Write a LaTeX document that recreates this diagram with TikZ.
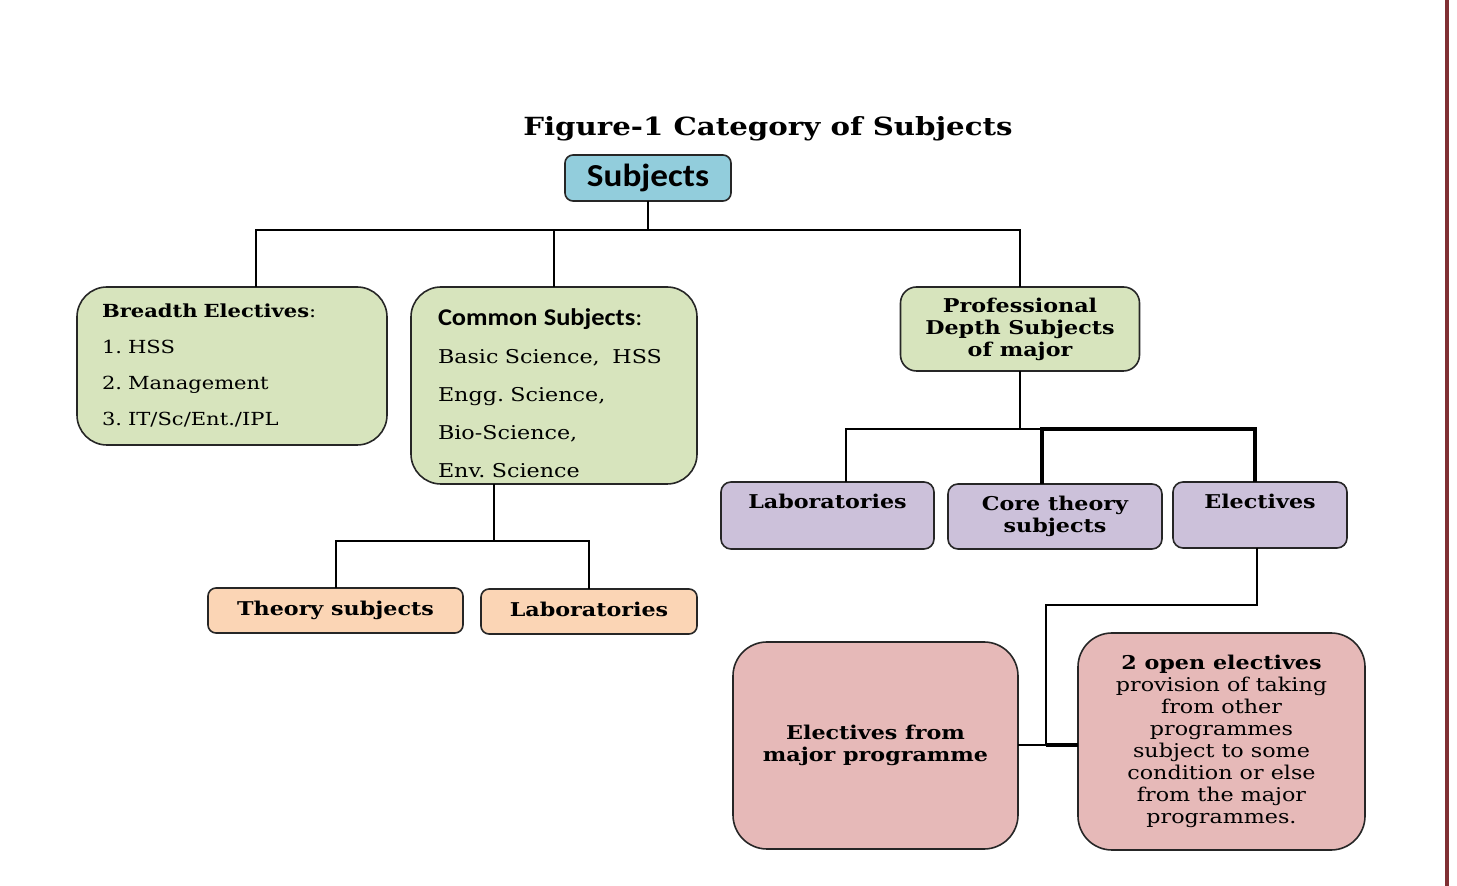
\documentclass[tikz,border=0pt]{standalone}
\usepackage{fontspec}
\setmainfont{DejaVu Serif}[FakeStretch=1.17]
\newfontfamily\calfont{Carlito}[FakeStretch=1.1]
\usepackage{tikz}
\usetikzlibrary{positioning}
\newcommand{\px}{0.5pt}
\newcommand{\bodyfont}{\fontsize{9.5}{11}\selectfont}
\definecolor{subjblue}{RGB}{146,205,220}
\definecolor{greenfill}{RGB}{215,228,189}
\definecolor{peachfill}{RGB}{251,213,181}
\definecolor{purplefill}{RGB}{204,193,218}
\definecolor{pinkfill}{RGB}{230,185,184}
\definecolor{pagered}{RGB}{128,48,52}
\tikzstyle{catbox}=[draw=black!85, line width=0.8pt, rounded corners=4pt, inner sep=0, outer sep=0]
\tikzstyle{greenbox}=[catbox, fill=greenfill, rounded corners=15pt]
\tikzstyle{peachbox}=[catbox, fill=peachfill, minimum height=45*\px, text height=7pt, text depth=2pt,
                      font=\bfseries\bodyfont]
\tikzstyle{purplebox}=[catbox, fill=purplefill, rounded corners=5pt]
\tikzstyle{pinkbox}=[catbox, fill=pinkfill, rounded corners=17pt, align=center]
\tikzstyle{boxtext}=[inner sep=0, align=center, font=\bfseries\bodyfont]
\tikzstyle{link}=[line width=1pt]
\tikzstyle{boldlink}=[line width=1.7pt]
\tikzstyle{categorytree}=[x=\px, y=-\px,
                          % Default font for the labels.
                          every node/.style={font=\bodyfont}]

\begin{document}
\frenchspacing
\begin{tikzpicture}[categorytree]
    \useasboundingbox (0,0) rectangle (1457,886);
    \node[font=\bfseries\fontsize{12.5}{15}\selectfont] (title) at (768,129) {Figure-1 Category of Subjects};
    \node[catbox, fill=subjblue, minimum width=166*\px, minimum height=46*\px,
          font=\calfont\bfseries\fontsize{16}{18}\selectfont] (subj) at (648,178) {Subjects};

    % second level
    \node[greenbox, minimum width=310*\px, minimum height=158*\px, text width=130pt, inner xsep=12.5pt,
          align=left, font=\fontsize{9}{18}\selectfont] (breadth) at (232,366)
        {\textbf{Breadth Electives}:\\1. HSS\\2. Management\\3. IT/Sc/Ent./IPL};
    \node[greenbox, minimum width=286*\px, minimum height=197*\px, text width=116pt, inner xsep=13.5pt,
          align=left, font=\fontsize{9.5}{19}\selectfont] (common) at (554,385.5)
        {\rule{0pt}{16pt}{\calfont\bfseries\fontsize{12}{19}\selectfont Common Subjects}{\calfont\fontsize{12}{19}\selectfont:}\\
         Basic Science,~~HSS\\Engg. Science,\\Bio-Science,\\Env. Science};
    \node[greenbox, rounded corners=8pt, minimum width=239*\px, minimum height=84*\px, align=center,
          font=\bfseries\bodyfont] (prof) at (1020,329) {Professional\\Depth Subjects\\of major};

    % under common subjects
    \node[peachbox, minimum width=255*\px] (theory) at (335.5,610.5) {Theory subjects};
    \node[peachbox, minimum width=216*\px] (olab) at (589,611.5) {Laboratories};

    % under professional depth
    \node[purplebox, minimum width=213*\px, minimum height=67*\px] (plab) at (827.5,515.5) {};
    \node[purplebox, minimum width=214*\px, minimum height=65*\px] (core) at (1055,516.5) {};
    \node[purplebox, minimum width=174*\px, minimum height=66*\px] (elec) at (1260,515) {};
    \node[boxtext, below=6pt of plab.north] (plabtext) {Laboratories};
    \node[boxtext, below=6pt of core.north] (coretext) {Core theory\\subjects};
    \node[boxtext, below=6pt of elec.north] (electext) {Electives};

    % electives
    \node[pinkbox, minimum width=285*\px, minimum height=207*\px, font=\bfseries\bodyfont] (emaj) at (875.5,745.5)
        {Electives from\\major programme};
    \node[pinkbox, minimum width=287*\px, minimum height=217*\px] (open) at (1221.5,741.5)
        {\textbf{2 open electives}\\provision of taking\\from other\\programmes\\subject to some\\condition or else\\from the major\\programmes.};

    % connectors
    \coordinate (topbus) at (648,230);
    \draw[link] (subj.south) -- (topbus);
    \draw[link] ([xshift=12pt]breadth.north) |- (topbus) -| (prof.north);
    \draw[link] (common.north) -- (common.north |- topbus);

    \coordinate (cbus) at (494,541);
    \draw[link] ([xshift=-30pt]common.south) -- (cbus);
    \draw[link] (theory.north) |- (cbus) -| (olab.north);

    \coordinate (pbus) at (1020,429);
    \coordinate (pl) at (846,429);
    \coordinate (pc) at (1042,429);
    \coordinate (pe) at (1255,429);
    \draw[link] (prof.south) -- (pbus);
    \draw[link] (pl |- plab.north) -- (pl) -- (pc);
    \draw[boldlink] (pc |- core.north) -- (pc) -- (pe) -- (pe |- elec.north);

    \coordinate (ebend) at (1046,605);
    \coordinate (ejoin) at (1046,745);
    \draw[link] ([xshift=-1.5pt]elec.south) |- (ebend) -- (ejoin);
    \draw[link] (emaj.east |- ejoin) -- (ejoin);
    \draw[boldlink] (ejoin) -- (open.west |- ejoin);

    % page rule
    \coordinate (ruletop) at (1447,0);
    \coordinate (rulebot) at (1447,886);
    \draw[pagered, line width=1.6pt] (ruletop) -- (rulebot);
\end{tikzpicture}
\end{document}
